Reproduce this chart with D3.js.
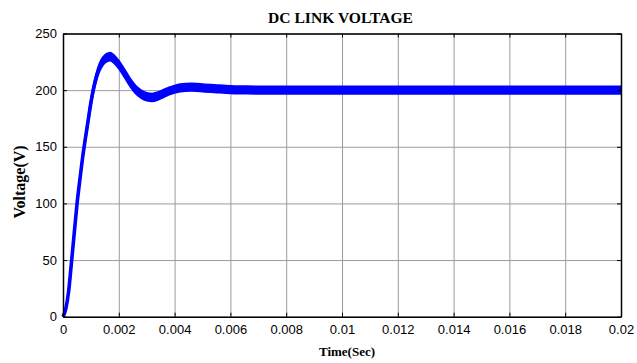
<!DOCTYPE html>
<html>
<head>
<meta charset="utf-8">
<script src="https://cdn.jsdelivr.net/npm/d3@7"></script>
<style>
  body { margin: 0; background: #fff; }
  svg { display: block; }
</style>
</head>
<body>
<div id="chart"></div>
<script>
// time samples (s) and DC link voltage (centre of the ripple band, V)
const timeSec = [0, 0.0001, 0.0002, 0.0003, 0.0004, 0.0005, 0.0006, 0.0007, 0.0008, 0.0009,
  0.001, 0.0011, 0.0012, 0.0013, 0.0014, 0.0015, 0.0016, 0.0017, 0.0018, 0.0019,
  0.002, 0.0022, 0.0024, 0.0026, 0.0028, 0.003, 0.0032, 0.0034, 0.0036, 0.0038,
  0.004, 0.0042, 0.0044, 0.0046, 0.0048, 0.005, 0.0055, 0.006, 0.0065, 0.007,
  0.008, 0.009, 0.01, 0.011, 0.012, 0.013, 0.014, 0.015, 0.016, 0.017, 0.018, 0.019, 0.02];
const voltage = [0, 7, 22, 47, 73, 99, 120, 140, 157, 173,
  189, 202, 212, 219.5, 224.5, 227.5, 229, 229.5, 228, 225.5,
  222.5, 215, 207, 200.5, 196.5, 194.2, 193.5, 194.8, 197, 199.2,
  200.8, 202, 202.5, 202.6, 202.4, 202, 201.2, 200.5, 200.2, 200,
  200, 200, 200, 200, 200, 200, 200, 200, 200, 200, 200, 200, 200];
// half height of the switching ripple band (V)
const ripple = [0, 0.3, 0.5, 0.7, 0.8, 1, 1.2, 1.5, 1.8, 2.1,
  2.4, 2.7, 3, 3.2, 3.4, 3.4, 3.4, 3.4, 3.4, 3.4,
  3.4, 3.4, 3.4, 3.4, 3.4, 3.4, 3.4, 3.4, 3.3, 3.2,
  3.2, 3.2, 3.2, 3.2, 3.2, 3.2, 3.2, 3.2, 3.2, 3.2,
  3.2, 3.2, 3.2, 3.2, 3.2, 3.2, 3.2, 3.2, 3.2, 3.2, 3.2, 3.2, 3.2];

const xTicks = [0, 0.002, 0.004, 0.006, 0.008, 0.01, 0.012, 0.014, 0.016, 0.018, 0.02];
const xTickLabels = ["0", "0.002", "0.004", "0.006", "0.008", "0.01", "0.012", "0.014", "0.016", "0.018", "0.02"];
const yTicks = [0, 50, 100, 150, 200, 250];
const yTickLabels = ["0", "50", "100", "150", "200", "250"];

const W = 637, H = 363;
const margin = { top: 33.5, right: 16, bottom: 46.3, left: 63 };
const width = W - margin.left - margin.right,
      height = H - margin.top - margin.bottom;

const data = timeSec.map((t, i) => ({ t: t, v: voltage[i], r: ripple[i] }));

const svg = d3.select("#chart").append("svg")
    .attr("width", W)
    .attr("height", H);

const g = svg.append("g")
    .attr("transform", `translate(${margin.left},${margin.top})`);

const x = d3.scaleLinear().domain([0, 0.02]).range([0, width]);
const y = d3.scaleLinear().domain([0, 250]).range([height, 0]);

// grid
g.append("g")
    .attr("class", "grid")
    .attr("transform", `translate(0,${height})`)
    .call(d3.axisBottom(x).tickValues(xTicks).tickSize(-height).tickFormat(""))
    .call(s => s.select(".domain").remove())
    .call(s => s.selectAll("line").attr("stroke", "#9c9c9c").attr("stroke-width", 1));
g.append("g")
    .attr("class", "grid")
    .call(d3.axisLeft(y).tickValues(yTicks).tickSize(-width).tickFormat(""))
    .call(s => s.select(".domain").remove())
    .call(s => s.selectAll("line").attr("stroke", "#9c9c9c").attr("stroke-width", 1));

// ripple band + centre trace
const band = d3.area()
    .x(d => x(d.t))
    .y0(d => y(d.v - d.r))
    .y1(d => y(d.v + d.r))
    .curve(d3.curveMonotoneX);
const line = d3.line()
    .x(d => x(d.t))
    .y(d => y(d.v))
    .curve(d3.curveMonotoneX);

g.append("path")
    .datum(data)
    .attr("d", band)
    .attr("fill", "#0000ff")
    .attr("stroke", "#0000ff")
    .attr("stroke-width", 2);
g.append("path")
    .datum(data)
    .attr("d", line)
    .attr("fill", "none")
    .attr("stroke", "#0000ff")
    .attr("stroke-width", 3.6)
    .attr("stroke-linejoin", "round");

// axes, MATLAB style: inward ticks on all four sides
const fmtX = d => xTickLabels[xTicks.indexOf(d)];
const fmtY = d => yTickLabels[yTicks.indexOf(d)];

g.append("g")
    .attr("transform", `translate(0,${height})`)
    .call(d3.axisBottom(x).tickValues(xTicks).tickSizeInner(-4).tickSizeOuter(0).tickPadding(8).tickFormat(fmtX));
g.append("g")
    .call(d3.axisLeft(y).tickValues(yTicks).tickSizeInner(-4).tickSizeOuter(0).tickPadding(6).tickFormat(fmtY));
g.append("g")
    .call(d3.axisTop(x).tickValues(xTicks).tickSizeInner(-4).tickSizeOuter(0).tickFormat(""));
g.append("g")
    .attr("transform", `translate(${width},0)`)
    .call(d3.axisRight(y).tickValues(yTicks).tickSizeInner(-4).tickSizeOuter(0).tickFormat(""));

g.selectAll(".domain").attr("stroke", "#000").attr("stroke-width", 1.5);
g.selectAll(".tick line").filter(function() { return !this.closest(".grid"); })
    .attr("stroke", "#000");
g.selectAll(".tick text")
    .attr("font-family", "'Liberation Sans', Arial, sans-serif")
    .attr("font-size", 13)
    .attr("fill", "#000");

// titles
svg.append("text")
    .attr("x", 340.5)
    .attr("y", 22.5)
    .attr("text-anchor", "middle")
    .attr("font-family", "'Liberation Serif', 'Times New Roman', serif")
    .attr("font-weight", "bold")
    .attr("font-size", 15.6)
    .text("DC LINK VOLTAGE");

svg.append("text")
    .attr("x", 347)
    .attr("y", 355.5)
    .attr("text-anchor", "middle")
    .attr("font-family", "'Liberation Serif', 'Times New Roman', serif")
    .attr("font-weight", "bold")
    .attr("font-size", 13)
    .text("Time(Sec)");

svg.append("text")
    .attr("transform", "translate(24.5,182) rotate(-90)")
    .attr("text-anchor", "middle")
    .attr("font-family", "'Liberation Serif', 'Times New Roman', serif")
    .attr("font-weight", "bold")
    .attr("font-size", 16)
    .text("Voltage(V)");
</script>
</body>
</html>
